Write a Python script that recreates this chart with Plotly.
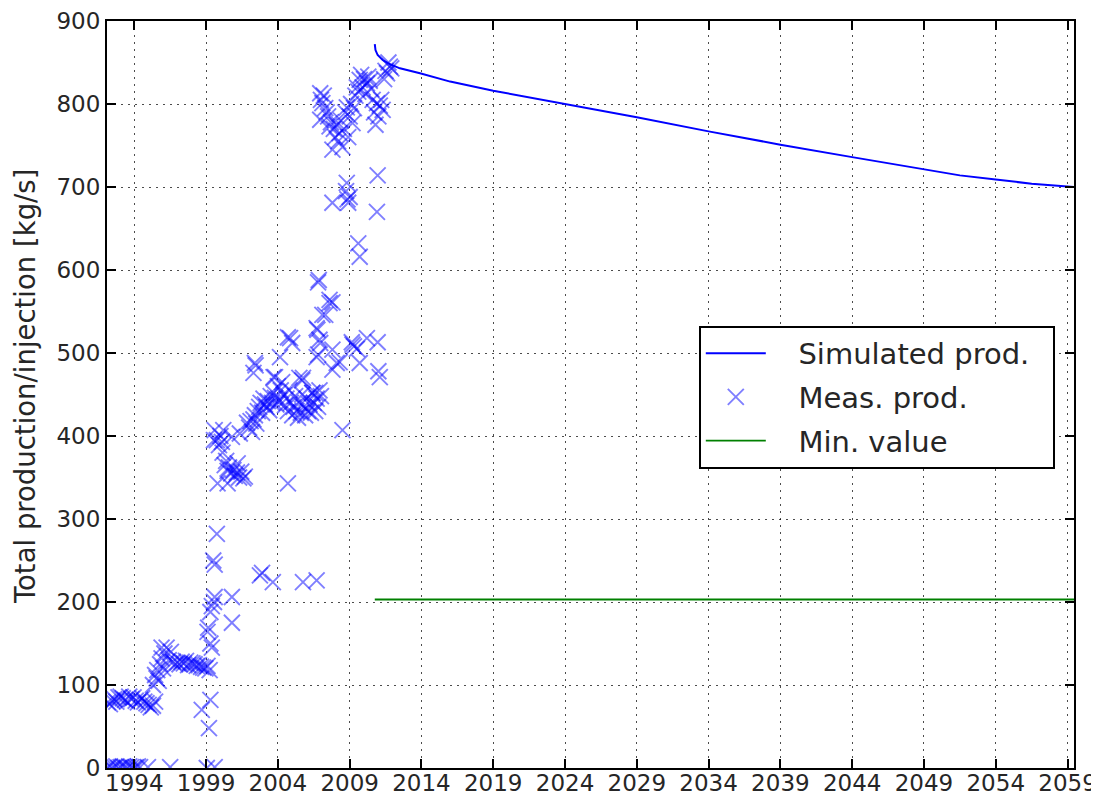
import plotly.graph_objects as go

# ---------------- data ----------------
zero_years = [1992.15, 1992.3, 1992.45, 1992.6, 1992.75, 1992.9, 1993.05, 1993.2, 1993.35,
              1993.5, 1993.65, 1993.8, 1993.95, 1994.1, 1994.25, 1994.4, 1994.95, 1996.5,
              1999.05, 1999.6]
zero_vals = [1, 2, 0, 1, 2, 0, 1, 2, 1, 0, 2, 1, 0, 1, 2, 1, 1, 1, 0, 1]

early_years = [1992.15, 1992.3, 1992.45, 1992.6, 1992.75, 1992.9, 1993.05, 1993.2, 1993.35,
               1993.5, 1993.65, 1993.8, 1993.95, 1994.1, 1994.25, 1994.4, 1994.55, 1994.7,
               1994.85, 1995.0, 1995.15, 1995.3, 1995.45]
early_vals = [79, 77, 81, 83, 80, 85, 86, 84, 82, 80, 86, 83, 85, 81, 79, 82, 84, 80,
              78, 76, 73, 75, 80]

rise_years = [1995.3, 1995.45, 1995.6, 1995.7, 1995.8, 1995.9, 1996.0, 1996.1, 1996.25,
              1996.4, 1996.55, 1996.7, 1996.85, 1995.9, 1995.55]
rise_vals = [100, 112, 118, 105, 125, 132, 120, 138, 145, 130, 140, 128, 125, 145, 108]

plateau_years = [1997.0, 1997.15, 1997.3, 1997.45, 1997.6, 1997.75, 1997.9, 1998.05, 1998.2,
                 1998.35, 1998.5, 1998.65, 1998.8, 1998.95, 1999.1, 1999.25]
plateau_vals = [127, 125, 128, 126, 129, 124, 127, 126, 125, 123, 124, 122, 121, 120, 123, 118]

low_years = [1998.7, 1999.3, 1999.2, 1999.1, 1999.15, 1999.4, 1999.3, 1999.3, 1999.55,
             1999.6, 1999.4, 1999.5, 1999.6, 1999.75, 2000.8, 2000.8, 2002.75, 2002.9,
             2003.65, 2005.75, 2006.7]
low_vals = [70, 82, 48, 164, 169, 145, 150, 188, 200, 206, 195, 250, 245, 282, 206, 175,
            232, 235, 224, 224, 226]

mid_years = [1999.6, 1999.75, 1999.9, 2000.0, 2000.1, 2000.15, 2000.2, 2000.3, 2000.4,
             2000.5, 2000.6, 2000.75, 2000.9, 2001.0, 2001.15, 2001.3, 2001.45, 2001.6,
             1999.8, 2000.5, 2000.8, 2001.2, 2001.7, 2001.35, 2001.85, 1999.55]
mid_vals = [407, 395, 389, 400, 393, 380, 407, 365, 370, 358, 362, 355, 359, 352, 356, 350,
            357, 349, 343, 343, 399, 367, 351, 403, 416, 395]

plat2_years = [2002.0, 2002.1, 2002.2, 2002.3, 2002.4, 2002.5, 2002.6, 2002.7, 2002.8,
               2002.9, 2003.0, 2003.1, 2003.2, 2003.3, 2003.4, 2003.5, 2003.6, 2003.7,
               2003.8, 2003.9, 2004.0, 2004.1, 2004.2, 2004.3, 2004.4, 2004.5, 2004.6,
               2004.7, 2004.8, 2004.9, 2005.0, 2005.1, 2005.2, 2005.3, 2005.4, 2005.5,
               2005.6, 2005.7, 2005.8, 2005.9, 2006.0, 2006.1, 2006.2, 2006.3, 2006.4,
               2006.5, 2006.6, 2006.7, 2006.8, 2006.9, 2007.0]
plat2_vals = [410, 418, 405, 420, 425, 415, 430, 435, 440, 428, 445, 438, 435, 442, 431,
              448, 440, 452, 446, 438, 460, 443, 455, 465, 450, 437, 445, 430, 455, 440,
              425, 435, 448, 430, 422, 440, 428, 450, 435, 425, 445, 430, 438, 428, 452,
              440, 430, 445, 435, 455, 448]

scatter_years = [2002.4, 2002.3, 2003.7, 2004.15, 2004.7, 2004.85, 2005.0, 2005.5, 2005.75,
                 2006.4, 2006.6, 2005.7, 2003.8, 2002.45, 2004.7,
                 2006.8, 2007.8, 2007.6, 2007.3, 2007.1, 2006.7, 2006.75, 2006.9, 2006.95,
                 2007.8, 2008.1, 2006.8, 2006.7, 2009.2, 2009.15, 2010.2, 2010.95, 2007.8,
                 2008.3, 2009.7, 2011.1, 2011.0, 2008.5, 2006.85, 2007.6, 2009.3, 2009.5]
scatter_vals = [488, 476, 471, 495, 519, 518, 512, 470, 470, 452, 452, 467, 471, 485, 343,
                585, 561, 560, 546, 546, 530, 528, 516, 512, 504, 488, 498, 495, 510, 513,
                518, 513, 480, 489, 488, 471, 478, 407, 588, 564, 508, 505]

top_years = [2006.95, 2007.1, 2006.95, 2007.6, 2008.3, 2007.8, 2008.5, 2008.8, 2009.2,
             2009.7, 2010.2, 2010.9, 2011.3, 2011.6, 2011.8, 2008.8, 2009.0, 2008.9,
             2007.8, 2010.95, 2010.9, 2009.6, 2009.7, 2007.0, 2007.2, 2007.3, 2007.4,
             2007.5, 2007.7, 2007.9, 2008.0, 2008.1, 2008.2, 2008.4, 2008.6, 2008.7,
             2008.9, 2009.0, 2009.1, 2009.3, 2009.4, 2009.5, 2009.6, 2009.8, 2009.9,
             2010.0, 2010.1, 2010.3, 2010.4, 2010.5, 2010.6, 2010.7, 2010.8, 2011.0,
             2011.1, 2011.2, 2011.4, 2011.5, 2011.7, 2011.9, 2008.75, 2008.85]
top_vals = [813, 801, 781, 773, 765, 745, 748, 796, 777, 829, 825, 801, 793, 837, 845,
            705, 688, 681, 681, 714, 670, 632, 616, 805, 810, 795, 790, 785, 778, 770,
            760, 775, 755, 780, 770, 790, 760, 785, 800, 795, 810, 820, 815, 835, 820,
            830, 812, 833, 828, 818, 805, 790, 775, 785, 798, 805, 830, 840, 850, 843,
            695, 685]

# Simulated production
sim_years = [2010.75, 2010.8, 2010.95, 2011.3, 2011.8, 2012.5, 2013.9, 2016, 2019, 2024,
             2029, 2034, 2039, 2044, 2049, 2051.5, 2054, 2056.5, 2059.45]
sim_vals = [872, 865, 859, 853, 848, 843, 837, 827, 816, 800, 784, 767, 751, 736, 721,
            714, 709, 704, 700]

# Minimum value
min_years = [2010.75, 2059.45]
min_vals = [203, 203]

x_ticks = [1994, 1999, 2004, 2009, 2014, 2019, 2024, 2029, 2034, 2039, 2044, 2049, 2054, 2059]
y_ticks = [0, 100, 200, 300, 400, 500, 600, 700, 800, 900]

meas_years = (zero_years + early_years + rise_years + plateau_years + low_years + mid_years
              + plat2_years + scatter_years + top_years)
meas_vals = (zero_vals + early_vals + rise_vals + plateau_vals + low_vals + mid_vals
             + plat2_vals + scatter_vals + top_vals)

# ---------------- figure ----------------
FONT = "DejaVu Sans"
TXT = "#262626"
PAD = "\u00a0\u00a0\u00a0"

fig = go.Figure()

fig.add_trace(go.Scatter(
    x=sim_years, y=sim_vals, mode="lines", name=PAD + "Simulated prod.\u00a0\u00a0",
    line=dict(color="#0000ff", width=2), legendgroup="a"))

fig.add_trace(go.Scatter(
    x=meas_years, y=meas_vals, mode="markers", name=PAD + "Meas. prod.",
    marker=dict(symbol="x-thin", size=16, color="rgba(0,0,255,0.5)",
                line=dict(width=1.9, color="rgba(0,0,255,0.5)")),
    legendgroup="b"))

fig.add_trace(go.Scatter(
    x=min_years, y=min_vals, mode="lines", name=PAD + "Min. value",
    line=dict(color="#008000", width=1.8), legendgroup="c"))

axis_common = dict(
    showline=True, linecolor="black", linewidth=2, mirror="allticks",
    ticks="inside", ticklen=9, tickwidth=1.5, tickcolor="black",
    showgrid=True, gridcolor="rgba(0,0,0,0.7)", griddash="2px,5px", gridwidth=1,
    zeroline=False, automargin=False,
    tickfont=dict(family=FONT, size=23, color=TXT),
)

fig.update_xaxes(range=[1992.1, 2059.45], tickvals=x_ticks,
                 ticktext=[str(v) for v in x_ticks], ticklabelstandoff=-7,
                 **axis_common)
fig.update_yaxes(range=[0, 900], tickvals=y_ticks,
                 ticktext=[str(v) for v in y_ticks], **axis_common)

# y-axis label placed as rotated text left of the tick labels
fig.add_annotation(
    text="Total production/injection [kg/s]", textangle=-90,
    xref="paper", yref="paper", x=-0.085, y=0.511, xanchor="center", yanchor="middle",
    showarrow=False, font=dict(family=FONT, size=27.5, color=TXT))

# the page body has an 8px margin, so the figure is drawn 8px smaller
fig.update_layout(
    width=1091, height=792,
    margin=dict(l=99, r=25, t=13, b=32),
    paper_bgcolor="white", plot_bgcolor="white",
    font=dict(family=FONT, color=TXT),
    showlegend=True,
    legend=dict(
        x=0.612, y=0.592, xanchor="left", yanchor="top",
        bgcolor="white", bordercolor="black", borderwidth=2,
        font=dict(family=FONT, size=29, color=TXT),
        traceorder="grouped", tracegroupgap=3,
        itemwidth=60,
    ),
)

fig.write_html("out.html")
